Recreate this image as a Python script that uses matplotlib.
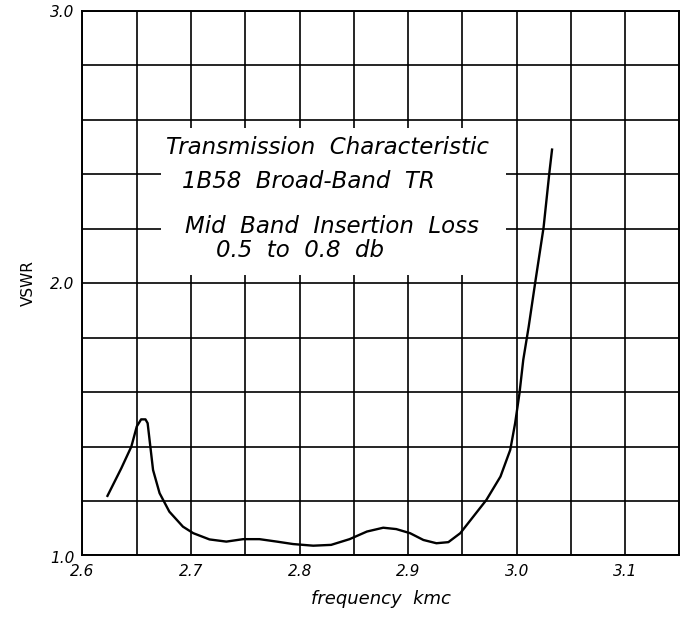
import matplotlib
matplotlib.use("Agg")
import matplotlib.pyplot as plt
from matplotlib.patches import Rectangle

# Data
freq = [2.623, 2.6357, 2.645, 2.650, 2.654, 2.658, 2.660, 2.6625, 2.665, 2.671,
        2.680, 2.6925, 2.702, 2.717, 2.7325, 2.748, 2.763, 2.779, 2.794, 2.8125,
        2.829, 2.846, 2.862, 2.877, 2.889, 2.9017, 2.914, 2.926, 2.937, 2.948,
        2.960, 2.972, 2.985, 2.994, 2.9985, 3.0025, 3.006, 3.011, 3.017, 3.0247,
        3.030, 3.0325]
vswr = [1.219, 1.32, 1.40, 1.474, 1.50, 1.50, 1.486, 1.40, 1.314, 1.229,
        1.161, 1.106, 1.082, 1.059, 1.051, 1.060, 1.060, 1.051, 1.042, 1.036,
        1.039, 1.060, 1.088, 1.102, 1.097, 1.082, 1.057, 1.045, 1.049, 1.082,
        1.143, 1.204, 1.29, 1.388, 1.486, 1.596, 1.719, 1.841, 2.003, 2.205,
        2.405, 2.491]

x_grid = [2.60, 2.65, 2.70, 2.75, 2.80, 2.85, 2.90, 2.95, 3.00, 3.05, 3.10]
x_labels = ["2.6", "", "2.7", "", "2.8", "", "2.9", "", "3.0", "", "3.1"]
y_grid = [1.0, 1.2, 1.4, 1.6, 1.8, 2.0, 2.2, 2.4, 2.6, 2.8, 3.0]
y_labels = ["", "", "", "", "", "2.0", "", "", "", "", "3.0"]

note_lines = ["Transmission  Characteristic",
              "1B58  Broad-Band  TR",
              "Mid  Band  Insertion  Loss",
              "0.5  to  0.8  db"]

fig = plt.figure(figsize=(6.84, 6.19), dpi=100)
ax = fig.add_axes([0.1206, 0.1026, 0.992 - 0.1206, 0.9822 - 0.1026])
ax.set_xlim(2.6, 3.149)
ax.set_ylim(1.0, 3.0)

ax.set_xticks(x_grid)
ax.set_xticklabels(x_labels, fontsize=11, style="italic")
ax.set_yticks(y_grid)
ax.set_yticklabels(y_labels, fontsize=11, style="italic")
ax.tick_params(length=0, pad=6)
ax.grid(True, color="black", linewidth=1.2)
ax.set_axisbelow(True)
for s in ax.spines.values():
    s.set_linewidth(1.4)
    s.set_color("black")

# white label area covering the grid
ax.add_patch(Rectangle((2.672, 2.03), 0.318, 0.54, facecolor="white",
                       edgecolor="none", zorder=1.5))

ax.plot(freq, vswr, color="black", linewidth=1.7, zorder=3)

fs = 16.5
ax.text(2.826, 2.497, note_lines[0], fontsize=fs, style="italic", ha="center", va="center", zorder=4)
ax.text(2.808, 2.372, note_lines[1], fontsize=fs, style="italic", ha="center", va="center", zorder=4)
ax.text(2.830, 2.21, note_lines[2], fontsize=fs, style="italic", ha="center", va="center", zorder=4)
ax.text(2.800, 2.122, note_lines[3], fontsize=fs, style="italic", ha="center", va="center", zorder=4)

fig.text(0.073, 0.097, "1.0", fontsize=11, style="italic", ha="left", va="center")
ax.set_xlabel("frequency  kmc", fontsize=13, style="italic", labelpad=8)
ax.set_ylabel("VSWR", fontsize=11, labelpad=10)

fig.savefig("out.png", dpi=100)
